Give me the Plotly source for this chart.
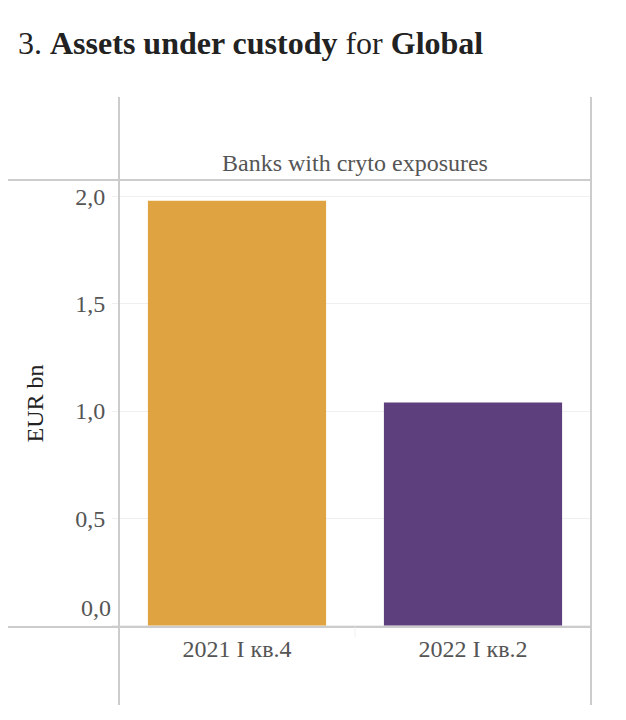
import plotly.graph_objects as go

categories = ["2021 I кв.4", "2022 I кв.2"]
values = [1.98, 1.04]
colors = ["#DFA441", "#5D3F7E"]
y_ticks = [0, 0.5, 1.0, 1.5, 2.0]
y_ticktext = ["", "0,5", "1,0", "1,5", "2,0"]
zero_label = "0,0"
strip_label = "Banks with cryto exposures"

W, H = 626, 720
L, R, T, B = 119, 591, 180, 627

def px(x):
    return (x - L) / (R - L)

def py(y):
    return (B - y) / (B - T)

FONT = "Liberation Serif, Times New Roman, serif"

fig = go.Figure(go.Bar(x=categories, y=values, marker=dict(color=colors, line=dict(width=0)),
                       width=0.755, hoverinfo="x+y"))

line_col = "#cccccc"
shapes = [
    dict(type="line", xref="paper", yref="paper", x0=px(8), x1=1, y0=1, y1=1, line=dict(color=line_col, width=2)),
    dict(type="line", xref="paper", yref="paper", x0=px(8), x1=1, y0=0, y1=0, line=dict(color=line_col, width=2)),
    dict(type="line", xref="paper", yref="paper", x0=0, x1=0, y0=py(705), y1=py(97), line=dict(color=line_col, width=2)),
    dict(type="line", xref="paper", yref="paper", x0=1, x1=1, y0=py(705), y1=py(97), line=dict(color=line_col, width=2)),
    dict(type="line", xref="paper", yref="paper", x0=0.5, x1=0.5, y0=py(637), y1=0, line=dict(color="#f0f0f0", width=1)),
]

fig.update_layout(
    width=W, height=H,
    margin=dict(l=L, r=W - R, t=T, b=H - B, pad=0),
    paper_bgcolor="white", plot_bgcolor="white",
    separators=",.",
    showlegend=False,
    font=dict(family=FONT, color="#555555", size=24),
    title=dict(text="3. <b>Assets under custody</b> for <b>Global</b>", x=18 / W, xanchor="left",
               y=1 - 43 / H, yanchor="middle", font=dict(family=FONT, size=32, color="#222222")),
    xaxis=dict(showgrid=False, showline=False, zeroline=False, ticks="", ticklabelstandoff=5,
               tickfont=dict(family=FONT, size=24, color="#555555"), fixedrange=True),
    yaxis=dict(range=[-0.007, 2.077], tickvals=y_ticks, ticktext=y_ticktext, showgrid=True, gridcolor="#efefef",
               gridwidth=1, zeroline=False, showline=False, ticks="outside", ticklen=6, tickcolor="#efefef",
               tickwidth=1, ticklabelstandoff=2,
               tickfont=dict(family=FONT, size=24, color="#555555"),
               title=dict(text="EUR bn", font=dict(family=FONT, size=24, color="#222222"), standoff=24)),
    shapes=shapes,
    annotations=[
        dict(text=strip_label, xref="paper", yref="paper", x=0.5, y=py(163), xanchor="center",
             yanchor="middle", showarrow=False, font=dict(family=FONT, size=24, color="#555555")),
        dict(text=zero_label, xref="paper", yref="paper", x=px(113), y=py(608), xanchor="right",
             yanchor="middle", showarrow=False, font=dict(family=FONT, size=24, color="#555555")),
    ],
    bargap=0.245,
)

fig.write_html("out.html")
